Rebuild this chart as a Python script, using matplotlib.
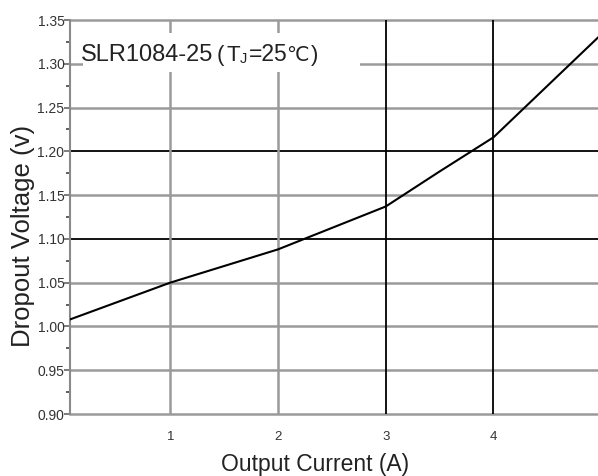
import numpy as np
import matplotlib.pyplot as plt
from matplotlib.patches import Rectangle

# Dropout voltage vs output current
current = [0.07, 1.0, 2.0, 3.0, 3.5, 4.0, 4.97]
dropout = [1.008, 1.05, 1.088, 1.137, 1.177, 1.216, 1.33]

x_ticks = [1, 2, 3, 4]
x_tick_labels = ['1', '2', '3', '4']
y_ticks = [0.90, 0.95, 1.00, 1.05, 1.10, 1.15, 1.20, 1.25, 1.30, 1.35]
y_tick_labels = ['0.90', '0.95', '1.00', '1.05', '1.10', '1.15', '1.20', '1.25', '1.30', '1.35']
black_h = [1.10, 1.20]
black_v = [3, 4]

plt.rcParams['font.family'] = ['Liberation Sans', 'DejaVu Sans']

W, H = 598, 476
fig = plt.figure(figsize=(W/100, H/100), dpi=100)
ax = fig.add_axes([70/W, 62/H, 528/W, 394/H])

ax.set_xlim(0.07, 4.97)
ax.set_ylim(0.90, 1.35)

# grid: grey by default, a few lines black
for yv in y_ticks:
    if yv in black_h:
        ax.axhline(yv, color='black', lw=1.3, zorder=1)
    else:
        ax.axhline(yv, color='#9a9a9a', lw=1.8, zorder=1, clip_on=False)
for xv in x_ticks:
    if xv in black_v:
        ax.axvline(xv, color='black', lw=1.3, zorder=1)
    else:
        ax.axvline(xv, color='#9a9a9a', lw=1.8, zorder=1)

ax.plot(current, dropout, color='black', lw=1.5, zorder=3)

# white label box hiding the grid
ax.add_patch(Rectangle((0.025, 0.868), 0.524, 0.099, transform=ax.transAxes,
                       facecolor='white', edgecolor='none', zorder=2))

# title pieces, placed in pixels (baseline ~61px from top)
def ptext(x, y, s, size, **kw):
    fig.text(x/W, 1 - y/H, s, fontsize=size, va='baseline', ha='left',
             color='#222222', zorder=5, **kw)

ptext(81, 61, 'SLR1084-25', 17)
ptext(217, 61, '(', 16)
ptext(226, 61, 'T', 16)
ptext(240, 63, 'J', 10.5)
ptext(249, 61, '=25', 16.5)
ptext(286, 61, '℃', 14.5, family=['DejaVu Sans'])
ptext(311, 61, ')', 16)

for s in ['top', 'right', 'bottom']:
    ax.spines[s].set_visible(False)
ax.spines['left'].set_color('#8a8a8a')
ax.spines['left'].set_linewidth(1.5)

ax.set_yticks(y_ticks)
ax.set_yticklabels(y_tick_labels)
ax.set_yticks(np.arange(0.925, 1.35, 0.05), minor=True)
ax.tick_params(axis='y', which='major', length=4, width=1.2, color='#666666',
               labelsize=10, labelcolor='#333333', pad=0)
ax.tick_params(axis='y', which='minor', length=3, width=1.2, color='#444444')

ax.set_xticks(x_ticks)
ax.set_xticklabels(x_tick_labels)
ax.tick_params(axis='x', length=0, labelsize=9.5, labelcolor='#333333', pad=12)

ax.set_xlabel('Output Current (A)', fontsize=16.5, color='#222222')
ax.xaxis.set_label_coords(0.464, -0.099)
ax.set_ylabel('Dropout Voltage (v)', fontsize=18.5, color='#222222')
ax.yaxis.set_label_coords(-0.066, 0.453)

fig.savefig('out.png', dpi=100)
